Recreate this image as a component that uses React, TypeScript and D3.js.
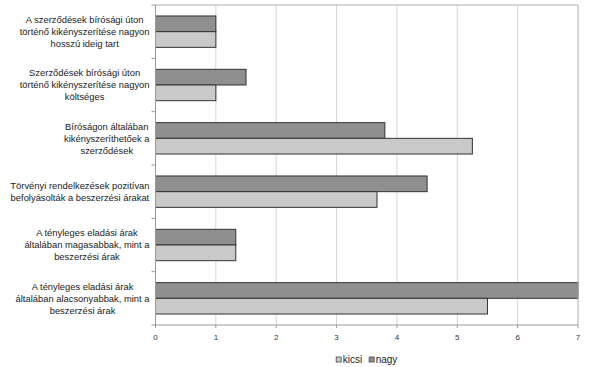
import * as d3 from 'd3';
import React, { useEffect, useRef } from 'react';

const categories = [
  'A szerződések bírósági úton|történő kikényszerítése nagyon|hosszú ideig tart',
  'Szerződések bírósági úton|történő kikényszerítése nagyon|költséges',
  'Bíróságon általában|kikényszeríthetőek a|szerződések',
  'Törvényi rendelkezések pozitívan|befolyásolták a beszerzési árakat',
  'A tényleges eladási árak|általában magasabbak, mint a|beszerzési árak',
  'A tényleges eladási árak|általában alacsonyabbak, mint a|beszerzési árak',
];
const series = ['nagy', 'kicsi'];
const nagyValues = [1, 1.5, 3.8, 4.5, 1.33, 7];
const kicsiValues = [1, 1, 5.25, 3.67, 1.33, 5.5];
const xTicks = [0, 1, 2, 3, 4, 5, 6, 7];
const legendItems = ['kicsi', 'nagy'];

const colors: Record<string, string> = { nagy: '#8f8f8f', kicsi: '#c9c9c9' };
const values: Record<string, number[]> = { nagy: nagyValues, kicsi: kicsiValues };

const width = 596;
const height = 367;
const margin = { top: 5, right: 18, bottom: 42, left: 155.5 };
const fontFamily = '"Liberation Sans", Arial, sans-serif';
const labelSize = 9.4;

const App: React.FC = () => {
  const svgRef = useRef<SVGSVGElement>(null);

  useEffect(() => {
    if (!svgRef.current) return;
    const svg = d3.select(svgRef.current);
    svg.selectAll('*').remove();

    const x = d3.scaleLinear().domain([0, 7]).range([margin.left, width - margin.right]);
    const y = d3.scaleBand().domain(categories).range([margin.top, height - margin.bottom]).padding(0);
    const ySub = d3.scaleBand().domain(series).range([0, y.bandwidth()]).paddingInner(0).paddingOuter(0.7);
    const bottom = height - margin.bottom;
    const right = width - margin.right;
    const labelRight = 149.5;

    // gridlines and frame
    svg.selectAll('line.grid')
      .data(xTicks.slice(1))
      .join('line')
      .attr('class', 'grid')
      .attr('x1', d => x(d)).attr('x2', d => x(d))
      .attr('y1', margin.top).attr('y2', bottom)
      .attr('stroke', '#d6d6d6');
    svg.append('line')
      .attr('x1', margin.left).attr('x2', right)
      .attr('y1', margin.top).attr('y2', margin.top)
      .attr('stroke', '#b0b0b0');

    // bars
    categories.forEach((c, i) => {
      svg.selectAll(null)
        .data(series)
        .join('rect')
        .attr('x', x(0))
        .attr('y', s => (y(c) || 0) + (ySub(s) || 0))
        .attr('width', s => x(values[s][i]) - x(0))
        .attr('height', ySub.bandwidth())
        .attr('fill', s => colors[s])
        .attr('stroke', '#333')
        .attr('stroke-width', 1);
    });

    // left axis
    svg.append('line')
      .attr('x1', margin.left).attr('x2', margin.left)
      .attr('y1', margin.top).attr('y2', bottom)
      .attr('stroke', '#999');
    svg.selectAll('line.ytick')
      .data([...categories.map(c => y(c) || 0), bottom])
      .join('line')
      .attr('class', 'ytick')
      .attr('x1', margin.left - 4).attr('x2', margin.left)
      .attr('y1', d => d).attr('y2', d => d)
      .attr('stroke', '#999');

    // category labels: each block right-aligned, lines centered within it
    categories.forEach(c => {
      const lines = c.split('|');
      const cy = (y(c) || 0) + y.bandwidth() / 2;
      const lh = 12;
      const t = svg.append('text')
        .attr('text-anchor', 'middle')
        .attr('font-size', labelSize)
        .attr('fill', '#222');
      const spans = t.selectAll('tspan')
        .data(lines)
        .join('tspan')
        .attr('y', (_, j) => cy + (j - (lines.length - 1) / 2) * lh + 3.3)
        .text(d => d);
      let maxW = 0;
      spans.each(function () {
        maxW = Math.max(maxW, (this as SVGTSpanElement).getComputedTextLength());
      });
      spans.attr('x', labelRight - maxW / 2);
    });

    // bottom axis
    svg.append('line')
      .attr('x1', margin.left).attr('x2', right)
      .attr('y1', bottom).attr('y2', bottom)
      .attr('stroke', '#999');
    svg.append('line')
      .attr('x1', right).attr('x2', right)
      .attr('y1', margin.top).attr('y2', bottom)
      .attr('stroke', '#c0c0c0');
    const ticks = svg.selectAll('g.xtick')
      .data(xTicks)
      .join('g')
      .attr('class', 'xtick')
      .attr('transform', d => `translate(${x(d)},${bottom})`);
    ticks.append('line').attr('y2', 3).attr('stroke', '#999');
    ticks.append('text')
      .attr('y', 15)
      .attr('text-anchor', 'middle')
      .attr('font-size', 8)
      .attr('fill', '#333')
      .text(d => d);

    // legend, centered under the plot
    const legend = svg.append('g');
    let lx = 0;
    legendItems.forEach(k => {
      legend.append('rect')
        .attr('x', lx).attr('y', 357)
        .attr('width', 5).attr('height', 5)
        .attr('fill', colors[k])
        .attr('stroke', '#444')
        .attr('stroke-width', 0.8);
      const t = legend.append('text')
        .attr('x', lx + 6.5).attr('y', 363)
        .attr('font-size', 10)
        .attr('fill', '#222')
        .text(k);
      lx += 6.5 + (t.node() as SVGTextElement).getComputedTextLength() + 7;
    });
    const legendW = lx - 7;
    legend.attr('transform', `translate(${(margin.left + right) / 2 - legendW / 2},0)`);
  }, []);

  return (
    <svg
      ref={svgRef}
      width={width}
      height={height}
      fontFamily={fontFamily}
      style={{ position: 'absolute', left: 0, top: 0, background: '#fff' }}
    />
  );
};

export default App;
